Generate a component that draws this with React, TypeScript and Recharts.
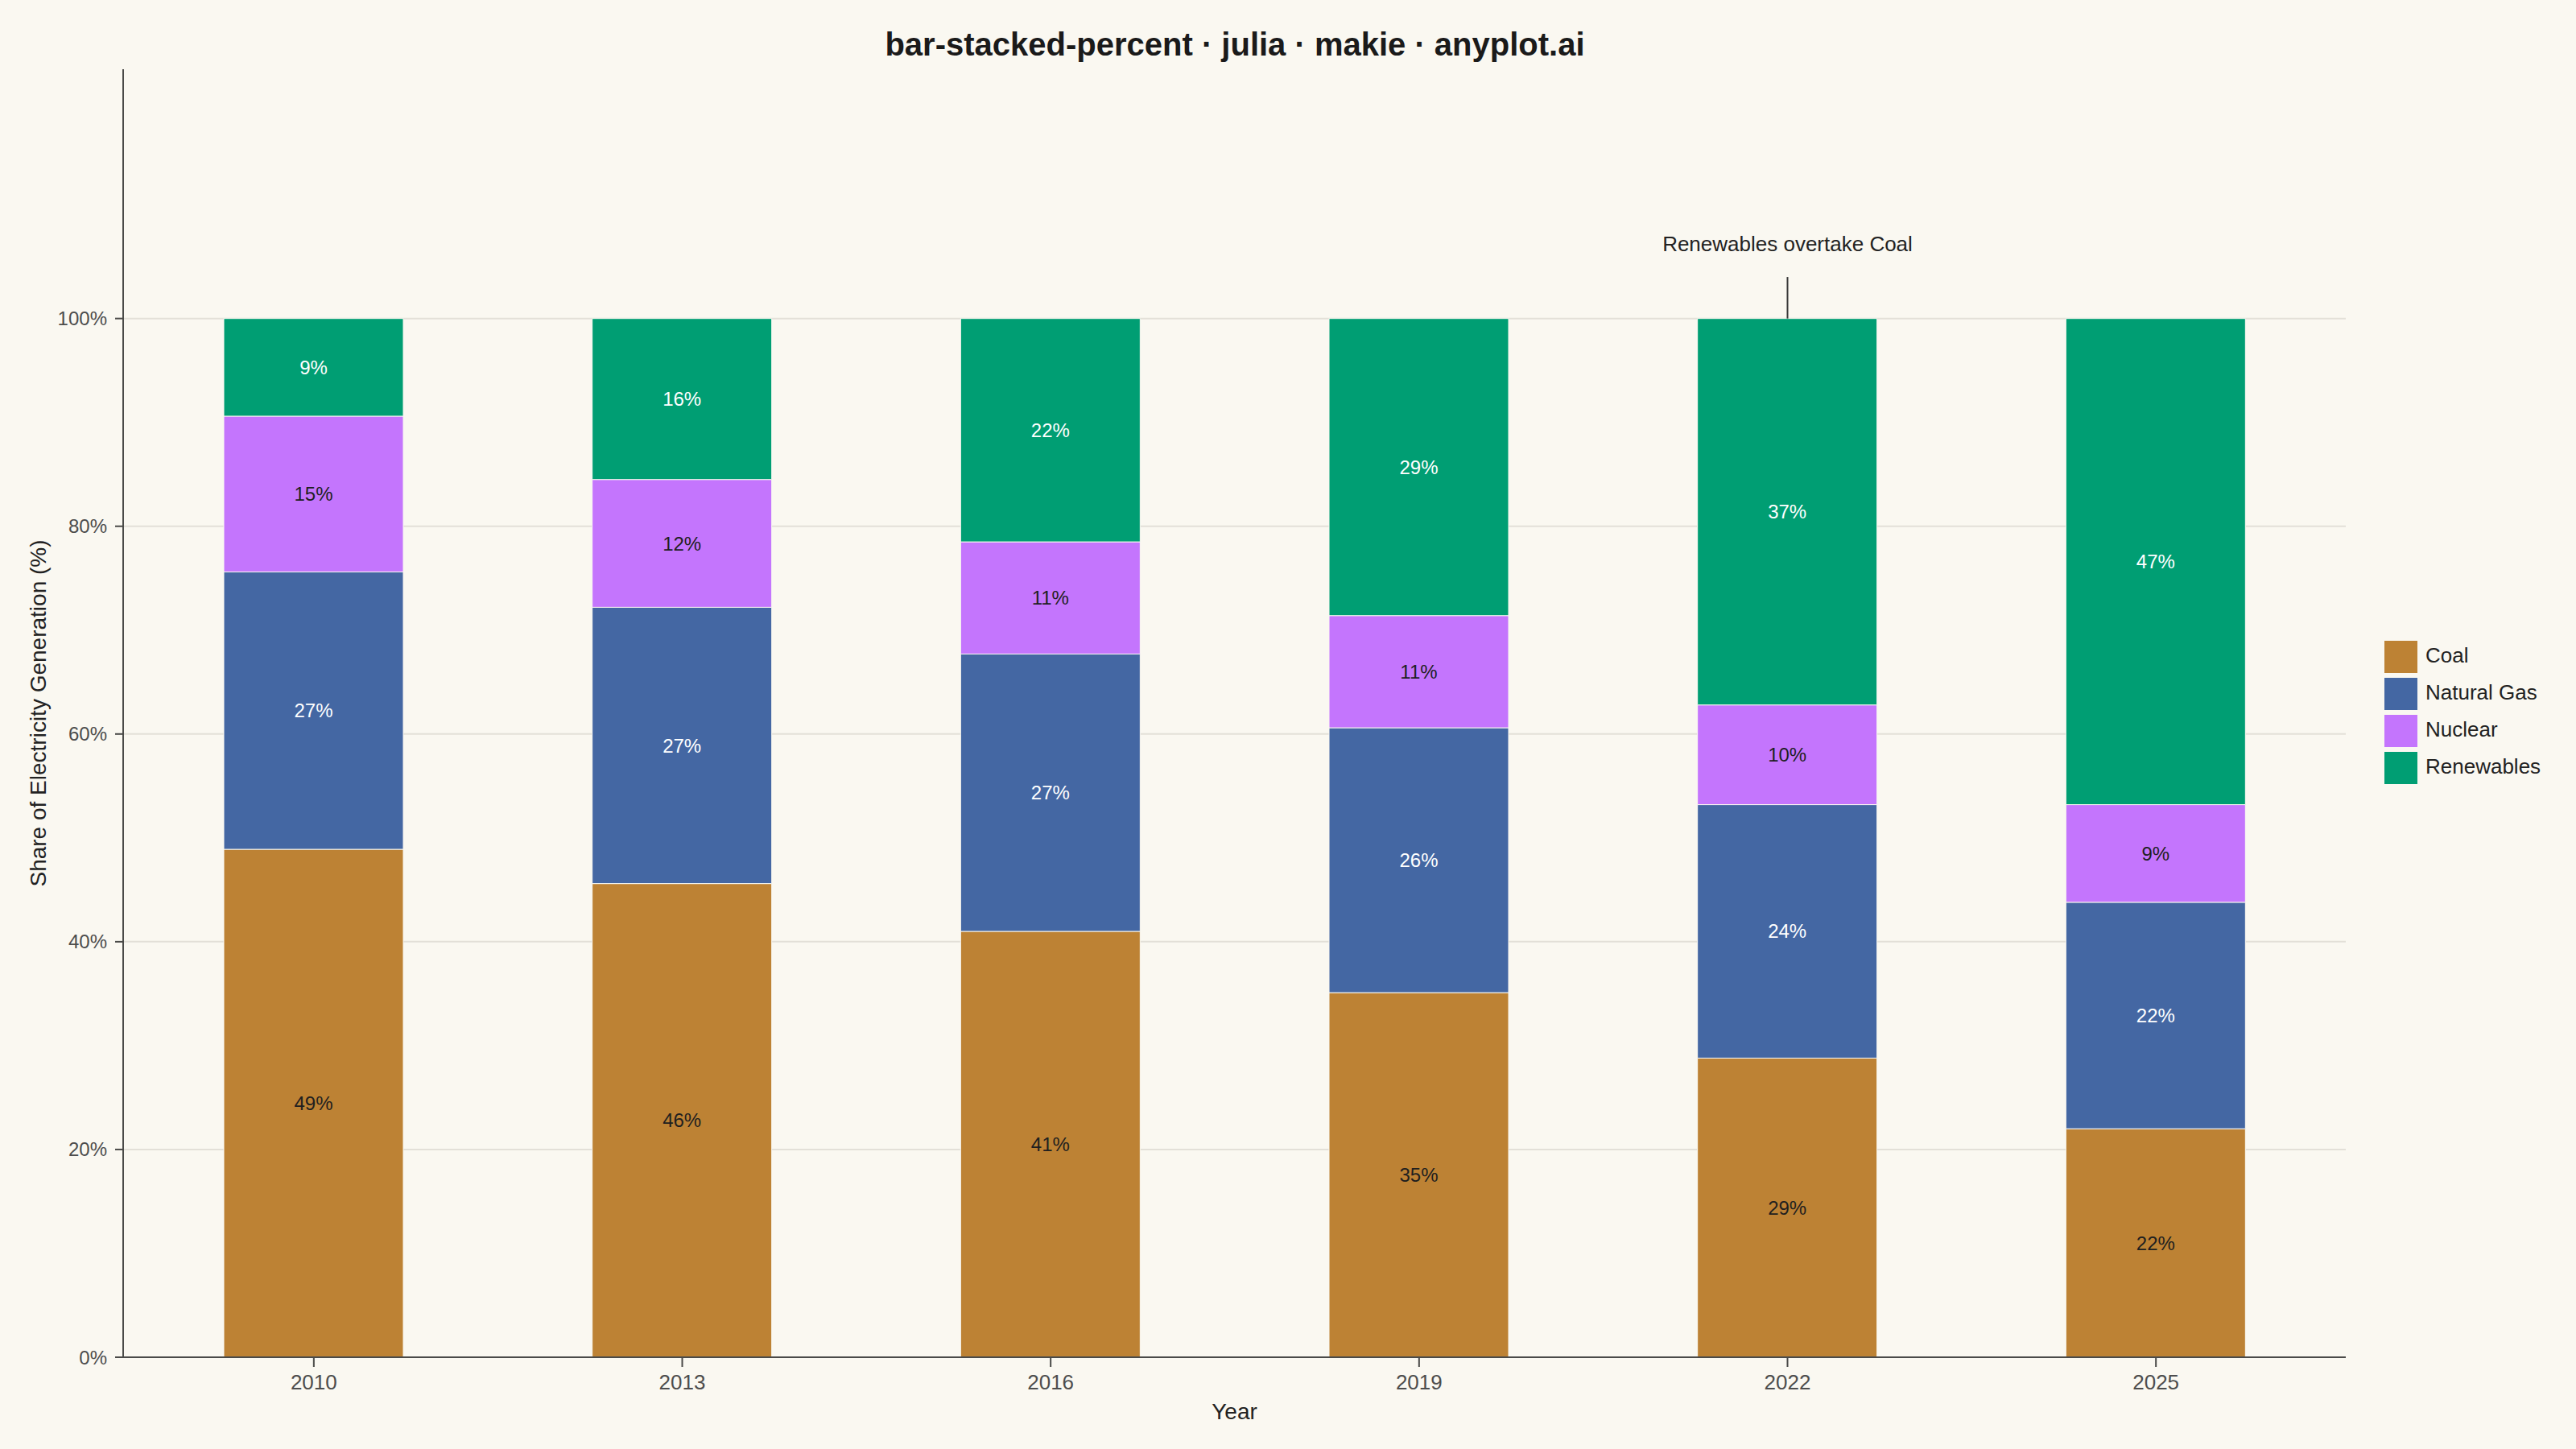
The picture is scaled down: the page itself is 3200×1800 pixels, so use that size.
import React from 'react';
import {
  BarChart,
  Bar,
  XAxis,
  YAxis,
  CartesianGrid,
  LabelList,
  Legend,
  ReferenceLine,
  ReferenceDot,
} from 'recharts';

// ---- data ----
const years = ['2010', '2013', '2016', '2019', '2022', '2025'];
const coal = [48.9, 45.6, 41.0, 35.1, 28.8, 22.0];
const gas = [26.7, 26.6, 26.7, 25.5, 24.4, 21.8];
const nuclear = [15.0, 12.3, 10.8, 10.8, 9.6, 9.4];
const renewables = [9.4, 15.5, 21.5, 28.6, 37.2, 46.8];
const yTicks = [0, 20, 40, 60, 80, 100];

const seriesKeys = ['coal', 'gas', 'nuclear', 'renewables'];
const seriesNames = ['Coal', 'Natural Gas', 'Nuclear', 'Renewables'];
const seriesColors = ['#BD8234', '#4467A3', '#C475FD', '#009E73'];
const labelColors = ['#1F1F1F', '#FFFFFF', '#1F1F1F', '#FFFFFF'];

const annotationYear = '2022';
const annotationText = 'Renewables overtake Coal';
const annotationLine = [100, 104];
const annotationTextY = 107.2;

const titleText = 'bar-stacked-percent · julia · makie · anyplot.ai';

const data = years.map((year, i) => ({
  year,
  coal: coal[i],
  gas: gas[i],
  nuclear: nuclear[i],
  renewables: renewables[i],
}));

// ---- style ----
const FONT = '"Liberation Sans", Arial, Helvetica, sans-serif';
const BG = '#FAF8F1';
const AXIS = '#4A4A48';
const TICK_TEXT = '#4D4D4D';
const TEXT = '#222222';

const renderLegend = () => (
  <div style={{ display: 'flex', flexDirection: 'column', gap: 6, fontFamily: FONT }}>
    {seriesNames.map((n, i) => (
      <div key={n} style={{ display: 'flex', alignItems: 'center', height: 40 }}>
        <div style={{ width: 41, height: 40, background: seriesColors[i] }} />
        <span
          style={{
            marginLeft: 10,
            fontSize: 26,
            color: TEXT,
            lineHeight: '40px',
            position: 'relative',
            top: -2,
            whiteSpace: 'nowrap',
          }}
        >
          {n}
        </span>
      </div>
    ))}
  </div>
);

export default function App() {
  return (
    <div
      style={{
        position: 'relative',
        width: 3200,
        height: 1800,
        background: BG,
        fontFamily: FONT,
        overflow: 'hidden',
      }}
    >
      <style>{'body{margin:0;background:' + BG + ';}'}</style>
      <div
        style={{
          position: 'absolute',
          left: 534,
          width: 2000,
          top: 35,
          textAlign: 'center',
          fontSize: 40,
          fontWeight: 'bold',
          lineHeight: '40px',
          color: '#1A1A1A',
          zIndex: 2,
        }}
      >
        {titleText}
      </div>
      <BarChart
        width={3200}
        height={1800}
        data={data}
        margin={{ top: 86, right: 286, bottom: 0, left: 0 }}
        style={{ fontFamily: FONT }}
      >
        <CartesianGrid
          vertical={false}
          horizontalValues={yTicks}
          stroke="#E3E0D8"
          strokeWidth={2}
        />
        <XAxis
          dataKey="year"
          height={114}
          padding={{ left: 8, right: 7 }}
          tickSize={12}
          tickMargin={10}
          tick={{ fontSize: 26, fill: TICK_TEXT, fontFamily: FONT }}
          axisLine={{ stroke: AXIS, strokeWidth: 2 }}
          tickLine={{ stroke: AXIS, strokeWidth: 2 }}
          label={{
            value: 'Year',
            position: 'center',
            dy: 10,
            fontSize: 28,
            fill: TEXT,
            fontFamily: FONT,
          }}
        />
        <YAxis
          width={153}
          domain={[0, 124]}
          ticks={yTicks}
          allowDataOverflow
          tickFormatter={(v: number) => `${v}%`}
          tickSize={10}
          tickMargin={10}
          tick={{ fontSize: 24, fill: TICK_TEXT, fontFamily: FONT }}
          axisLine={{ stroke: AXIS, strokeWidth: 2 }}
          tickLine={{ stroke: AXIS, strokeWidth: 2 }}
          label={{
            value: 'Share of Electricity Generation (%)',
            angle: -90,
            position: 'center',
            dx: -29.5,
            fontSize: 28,
            fill: TEXT,
            fontFamily: FONT,
          }}
        />
        {seriesKeys.map((key, i) => (
          <Bar
            key={key}
            dataKey={key}
            name={seriesNames[i]}
            stackId="share"
            fill={seriesColors[i]}
            stroke={BG}
            strokeWidth={1}
            barSize={223}
            isAnimationActive={false}
          >
            <LabelList
              dataKey={key}
              position="center"
              formatter={(v: any) => `${Math.round(Number(v))}%`}
              fill={labelColors[i]}
              stroke="none"
              fontSize={24}
              fontFamily={FONT}
            />
          </Bar>
        ))}
        <ReferenceLine
          segment={[
            { x: annotationYear, y: annotationLine[0] },
            { x: annotationYear, y: annotationLine[1] },
          ]}
          stroke="#3A3A3A"
          strokeWidth={2}
        />
        <ReferenceDot
          x={annotationYear}
          y={annotationTextY}
          r={0}
          fill="none"
          stroke="none"
          label={{
            value: annotationText,
            position: 'center',
            fontSize: 26,
            fill: TEXT,
            fontFamily: FONT,
          }}
        />
        <Legend
          layout="vertical"
          align="center"
          verticalAlign="middle"
          content={renderLegend}
          wrapperStyle={{ left: 2962, top: 796, width: 240 }}
        />
      </BarChart>
    </div>
  );
}
